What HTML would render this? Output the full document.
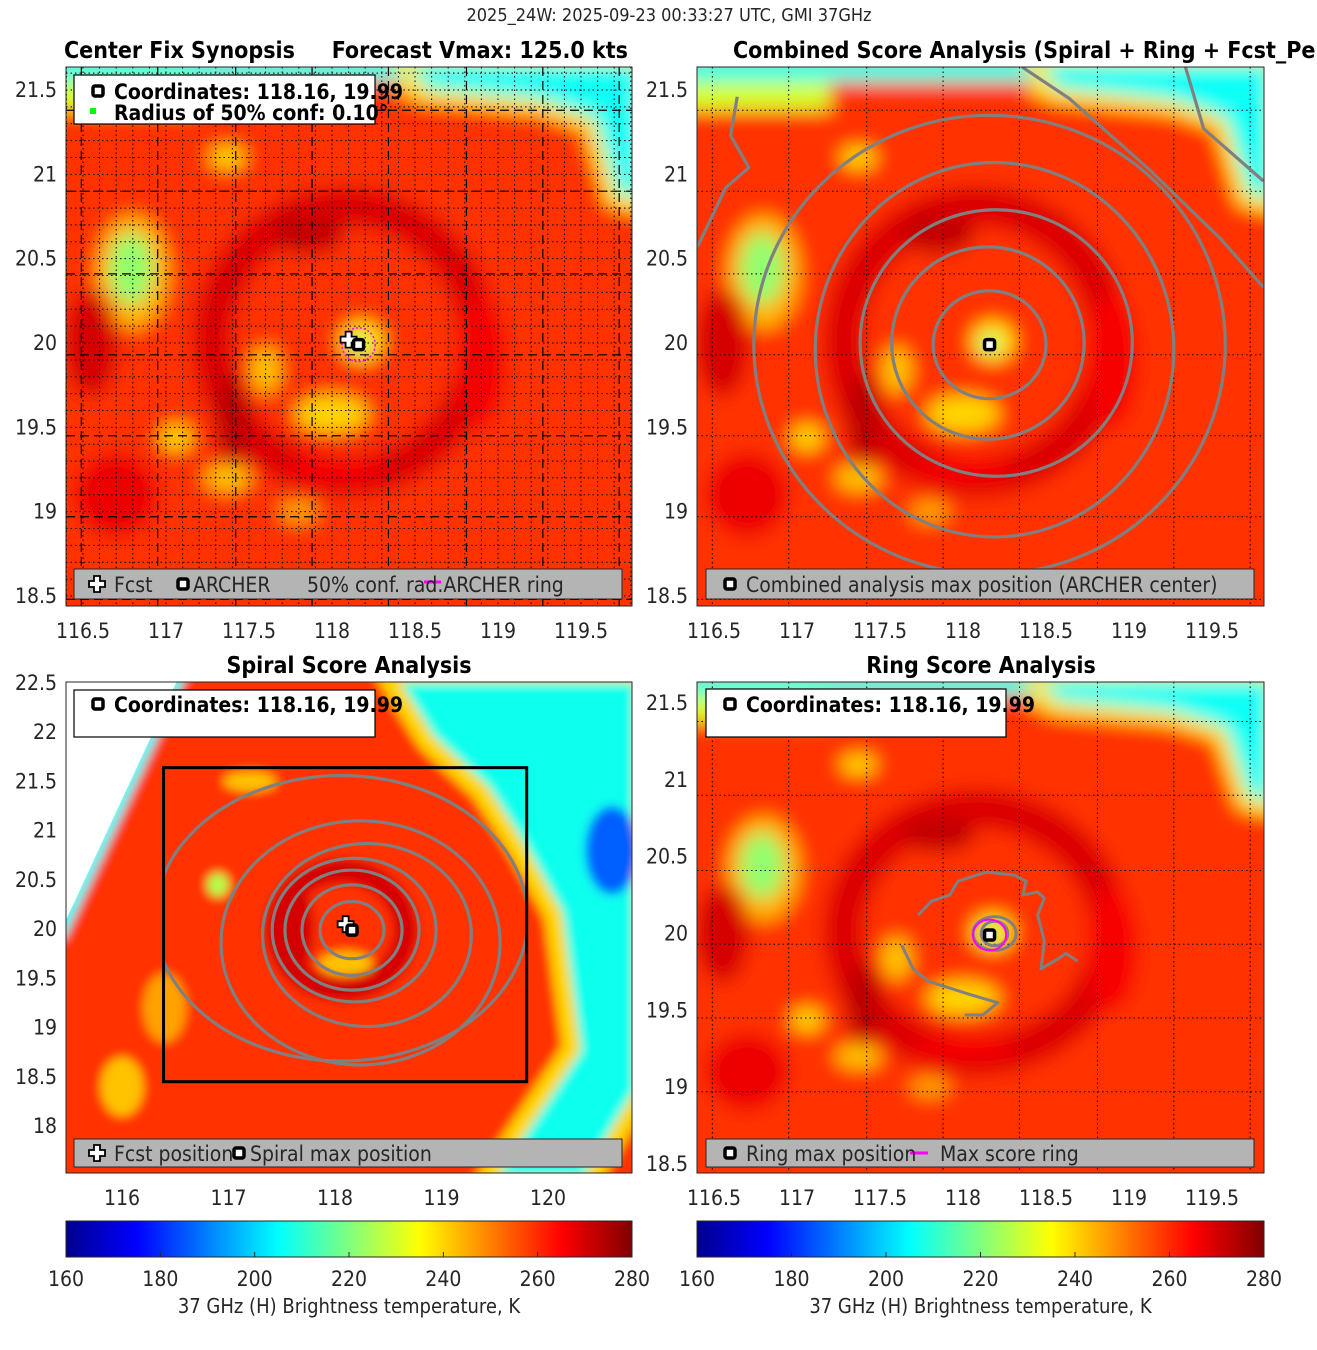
<!DOCTYPE html>
<html><head><meta charset="utf-8">
<style>
html,body{margin:0;padding:0;background:#fff;}
svg{display:block;font-family:"Liberation Sans Narrow","DejaVu Sans Condensed","Liberation Sans",sans-serif;}
</style></head>
<body>
<svg id="fig" width="1317" height="1350" viewBox="0 0 1317 1350">
<defs>
<filter id="blur" x="-20%" y="-20%" width="140%" height="140%"><feGaussianBlur stdDeviation="9"/></filter>
<filter id="blur2" x="-20%" y="-20%" width="140%" height="140%"><feGaussianBlur stdDeviation="5"/></filter>
<linearGradient id="jet" x1="0" x2="1" y1="0" y2="0">
<stop offset="0" stop-color="#00008f"/><stop offset="0.125" stop-color="#0000ff"/>
<stop offset="0.375" stop-color="#00ffff"/><stop offset="0.625" stop-color="#ffff00"/>
<stop offset="0.875" stop-color="#ff0000"/><stop offset="1" stop-color="#800000"/>
</linearGradient>
</defs>
<text x="669" y="21" font-size="18" text-anchor="middle" fill="#262626">2025_24W: 2025-09-23 00:33:27 UTC, GMI 37GHz</text>
<g id="root"></g>
</svg>
<script>
// ---------- data ----------
const centerLon = 118.16;
const centerLat = 19.99;
const fcstLon = 118.10;
const fcstLat = 20.02;
const cbarTicks = [160,180,200,220,240,260,280];
const tempMin = 160;
const tempMax = 280;
const baseTemp = 259;
// shared field blobs: [lon, lat, rLon, rLat, temp]
const fieldBlobs = [
 [116.80,20.42,0.22,0.34,244],[116.79,20.44,0.13,0.21,222],
 [118.18,20.01,0.13,0.12,238],[118.16,19.99,0.05,0.05,218],
 [118.00,19.58,0.22,0.11,240],[117.60,19.84,0.09,0.14,242],
 [117.06,19.44,0.10,0.08,240],[117.37,19.20,0.14,0.08,242],
 [117.80,19.00,0.12,0.07,246],[117.37,21.10,0.11,0.07,240],
 [116.55,20.00,0.16,0.32,270],[116.70,19.10,0.25,0.25,267],
 [117.85,20.65,0.22,0.12,272],[117.40,19.55,0.10,0.28,273],
 [118.90,19.90,0.15,0.40,266],[118.00,19.25,0.30,0.08,266]
];
// band features [lon0, lat0, lon1, lat1, temp]
const fieldBands = [
 [116.30,21.70,119.90,21.55,208],[118.40,21.55,119.90,21.47,238],
 [116.30,21.55,117.20,21.38,230]
];
const cyanCorner = [[118.41,21.70],[119.90,21.70],[119.90,20.80],[119.69,20.85],[119.55,21.30],[119.25,21.40],[118.53,21.47]];
const darkRingR = 0.80;
const darkRingTemp = 269;
// spiral panel
const spiralBlobs = [
 [118.10,19.65,0.25,0.12,242],[116.90,20.45,0.10,0.12,226],[117.20,21.50,0.25,0.10,242],
 [116.40,19.20,0.20,0.35,246],[116.00,18.40,0.20,0.30,242],[120.60,20.80,0.25,0.45,186],
 [117.60,20.00,0.20,0.50,270]
];
const swath = [[118.46,22.60],[120.90,22.60],[120.90,18.34],[120.38,17.40],[119.37,17.40],[120.22,18.79],[120.05,20.14],[119.71,20.81],[119.37,21.39],[118.86,21.90]];
const noData = [[115.40,22.60],[116.55,22.60],[115.40,19.92]];
const spiralBox = [116.39,21.64,119.80,18.45];
// contour ellipses [dLon, dLat, rLon, rLat]
const combRx = [0.34,0.58,0.82,1.08,1.42];
const combRy = [0.32,0.57,0.79,1.11,1.36];
const combDx = [0.00,-0.01,0.04,0.03,0.00];
const combDy = [0.00,0.01,0.01,-0.03,0.00];
const combOpenA = [[118.356,21.636],[118.64,21.45],[119.12,21.03],[119.55,20.62],[119.81,20.33]];
const combOpenB = [[119.34,21.636],[119.45,21.27],[119.81,20.96]];
const combOpenC = [[116.64,21.46],[116.60,21.23],[116.71,21.04],[116.57,20.92],[116.40,20.57]];
const spirRx = [0.30,0.47,0.63,0.77,0.98,1.31,1.75];
const spirRy = [0.29,0.46,0.61,0.73,0.93,1.24,1.45];
const spirDx = [0.00,0.00,0.00,0.02,0.14,0.08,-0.10];
const spirDy = [0.00,0.00,0.00,0.00,-0.05,-0.13,0.12];
const ringContourA = [[117.73,20.12],[117.81,20.21],[117.92,20.25],[117.97,20.34],[118.14,20.40],[118.31,20.38],[118.38,20.34],[118.36,20.25],[118.45,20.27],[118.49,20.23],[118.45,20.12],[118.49,19.95],[118.47,19.77],[118.58,19.84],[118.62,19.87],[118.69,19.82]];
const ringContourB = [[117.63,19.925],[117.70,19.77],[117.79,19.69],[118.05,19.60],[118.21,19.55],[118.12,19.47],[118.01,19.47]];
const ringRx = [0.08,0.13];
const ringRy = [0.08,0.11];
const maxRingR = 0.10;
// axes ticks
const xTicksA = [116.5,117,117.5,118,118.5,119,119.5];
const yTicksA = [18.5,19,19.5,20,20.5,21,21.5];
const xTicksS = [116,117,118,119,120];
const yTicksS = [18,18.5,19,19.5,20,20.5,21,21.5,22,22.5];
const yTicksR = [18.5,19,19.5,20,20.5,21,21.5];

// ---------- helpers ----------
const NS="http://www.w3.org/2000/svg";
const root=document.getElementById('root');
function el(tag,attrs,parent){const e=document.createElementNS(NS,tag);for(const k in attrs)e.setAttribute(k,attrs[k]);(parent||root).appendChild(e);return e;}
function jet(T){let t=(T-tempMin)/(tempMax-tempMin);t=Math.max(0,Math.min(1,t));
 const c=v=>Math.round(255*Math.max(0,Math.min(1,v)));
 return `rgb(${c(1.5-Math.abs(4*t-3))},${c(1.5-Math.abs(4*t-2))},${c(1.5-Math.abs(4*t-1))})`;}
function lin(d0,d1,p0,p1){return v=>p0+(v-d0)*(p1-p0)/(d1-d0);}
function mkPanel(id,box,sx,sy){
 const g=el('g',{});
 
 
 const cp=el('clipPath',{id:'clip-'+id},g);
 el('rect',{x:box[0],y:box[1],width:box[2]-box[0],height:box[3]-box[1]},cp);
 const inner=el('g',{'clip-path':`url(#clip-${id})`},g);
 return {g,inner,sx,sy,box};
}
function drawField(P,blobs,bands,useRing,useCorner){
 const f=el('g',{filter:'url(#blur)'},P.inner);
 el('rect',{x:P.box[0]-20,y:P.box[1]-20,width:P.box[2]-P.box[0]+40,height:P.box[3]-P.box[1]+40,fill:jet(baseTemp)},f);
 if(useRing){
  const r=el('ellipse',{cx:P.sx(centerLon-0.08),cy:P.sy(centerLat+0.02),rx:Math.abs(P.sx(centerLon+darkRingR)-P.sx(centerLon)),ry:Math.abs(P.sy(centerLat+darkRingR)-P.sy(centerLat)),fill:'none',stroke:jet(darkRingTemp),'stroke-width':40},f);
  
  
 }
 bands.forEach(b=>{
  const r=el('rect',{x:P.sx(b[0]),y:P.sy(b[1]),width:P.sx(b[2])-P.sx(b[0]),height:P.sy(b[3])-P.sy(b[1]),fill:jet(b[4])},f);
  
  
 });
 if(useCorner){
  const pts=cyanCorner.map(p=>P.sx(p[0])+','+P.sy(p[1])).join(' ');
  el('polygon',{points:pts,fill:jet(206),stroke:jet(238),'stroke-width':14,'stroke-linejoin':'round'},f);
 }
 blobs.forEach(b=>{
  const e=el('ellipse',{cx:P.sx(b[0]),cy:P.sy(b[1]),rx:Math.abs(P.sx(b[0]+b[2])-P.sx(b[0])),ry:Math.abs(P.sy(b[1]+b[3])-P.sy(b[1])),fill:jet(b[4])},f);
  
  
 });
 return f;
}
function gridLines(P,xs,ys,dash,w){
 const g=el('g',{stroke:'#000','stroke-width':w||1,'stroke-dasharray':dash,fill:'none'},P.inner);
 xs.forEach(v=>el('line',{x1:P.sx(v),x2:P.sx(v),y1:P.box[1],y2:P.box[3]},g));
 ys.forEach(v=>el('line',{y1:P.sy(v),y2:P.sy(v),x1:P.box[0],x2:P.box[2]},g));
}
function axes(P,xt,yt,name){
 el('rect',{x:P.box[0],y:P.box[1],width:P.box[2]-P.box[0],height:P.box[3]-P.box[1],fill:'none',stroke:'#262626','stroke-width':1},P.g);
 xt.forEach(v=>{const t=el('text',{x:P.sx(v),y:P.box[3]+32,'font-size':21,'text-anchor':'middle',fill:'#262626'},P.g);t.textContent=String(v);
  });
 yt.forEach(v=>{const t=el('text',{x:P.box[0]-9,y:P.sy(v)+7,'font-size':21,'text-anchor':'end',fill:'#262626'},P.g);t.textContent=String(v);
  });
}
function ell(P,parent,dx,dy,rx,ry,stroke,sw){
 return el('ellipse',{cx:P.sx(centerLon+dx),cy:P.sy(centerLat+dy),rx:Math.abs(P.sx(centerLon+rx)-P.sx(centerLon)),ry:Math.abs(P.sy(centerLat+ry)-P.sy(centerLat)),fill:'none',stroke:stroke,'stroke-width':sw},parent);
}
function poly(P,parent,pts,stroke,sw){
 return el('polyline',{points:pts.map(p=>P.sx(p[0])+','+P.sy(p[1])).join(' '),fill:'none',stroke:stroke,'stroke-width':sw,'stroke-linejoin':'round'},parent);
}
function sqMarker(x,y,parent){
 return el('rect',{x:x-5,y:y-5,width:10,height:10,rx:2,fill:'#fff',stroke:'#000','stroke-width':3.5},parent);
}
function plusMarker(x,y,parent){
 return el('path',{d:`M${x-3},${y-8}h6v5h5v6h-5v5h-6v-5h-5v-6h5z`,fill:'#fff',stroke:'#000','stroke-width':1.8},parent);
}
function txt(parent,x,y,s,size,weight,anchor,name){
 const t=el('text',{x:x,y:y,'font-size':size,'font-weight':weight||'normal','text-anchor':anchor||'start',fill:weight==='bold'?'#000':'#262626'},parent);
 t.textContent=s;
 
 
 return t;
}
const minorLon=[];for(let v=116.4;v<119.85;v+=0.1)minorLon.push(+v.toFixed(2));
const minorLat=[];for(let v=18.5;v<21.7;v+=0.1)minorLat.push(+v.toFixed(2));

// ---------- panel 1 ----------
const P1=mkPanel('synopsis',[66,67,632,606],lin(116.5,119.5,83,581),lin(21.5,18.5,90,596));
drawField(P1,fieldBlobs,fieldBands,true,true);
gridLines(P1,minorLon,minorLat,'1.5,3',1);
gridLines(P1,[116.49,116.95,117.42,117.88,118.34,118.81,119.27,119.73],[21.38,20.9,20.41,19.93,19.45,18.97,18.48],'9,5',1.2);
el('ellipse',{cx:P1.sx(centerLon),cy:P1.sy(centerLat),rx:P1.sx(centerLon+maxRingR)-P1.sx(centerLon),ry:P1.sy(centerLat)-P1.sy(centerLat+maxRingR),fill:'none',stroke:'#ff00ff','stroke-width':1.5,'stroke-dasharray':'2,2'},P1.inner);
plusMarker(P1.sx(fcstLon),P1.sy(fcstLat),P1.inner);
sqMarker(P1.sx(centerLon),P1.sy(centerLat),P1.inner);
axes(P1,xTicksA,yTicksA,'synopsis');
txt(P1.g,64,58,'Center Fix Synopsis',23,'bold','start','synopsis-title');
txt(P1.g,628,58,'Forecast Vmax: 125.0 kts',23,'bold','end','forecast-vmax-title');
{const lg=el('g',{},P1.g);
 el('rect',{x:74,y:75,width:301,height:49,fill:'#fff',stroke:'#000','stroke-width':1.2},lg);
 sqMarker(98,91,lg);el('rect',{x:90,y:108,width:6,height:6,fill:'#00ff00'},lg);
 txt(lg,114,99,'Coordinates: 118.16, 19.99',21,'bold','start','coordinates-text');
 txt(lg,114,120,'Radius of 50% conf: 0.10°',21,'bold','start','confidence-radius-text');}
{const lg=el('g',{},P1.g);
 el('rect',{x:74,y:569,width:548,height:30,fill:'#b4b4b4',stroke:'#262626','stroke-width':1},lg);
 plusMarker(97,584,lg);sqMarker(183,584,lg);
 el('line',{x1:424,x2:441,y1:582,y2:582,stroke:'#ff00ff','stroke-width':3},lg);
 txt(lg,114,592,'Fcst',21,'normal','start','legend-fcst');
 txt(lg,193,592,'ARCHER',21,'normal','start','legend-archer');
 txt(lg,307,592,'50% conf. rad.ARCHER ring',21,'normal','start','legend-conf-ring');}

// ---------- panel 2 ----------
const P2=mkPanel('combined',[697,67,1264,606],lin(116.5,119.5,714,1212),lin(21.5,18.5,90,596));
drawField(P2,fieldBlobs,fieldBands,true,true);
gridLines(P2,[116.49,116.95,117.42,117.88,118.34,118.81,119.27,119.73],[21.38,20.9,20.41,19.93,19.45,18.97,18.48],'1.5,3',1);
{const cg=el('g',{},P2.inner);
 combRx.forEach((r,i)=>{const e=ell(P2,cg,combDx[i],combDy[i],r,combRy[i],'#808080',3.2);});
 [combOpenA,combOpenB,combOpenC].forEach(c=>{const p=poly(P2,cg,c,'#808080',3.2);});}
sqMarker(P2.sx(centerLon),P2.sy(centerLat),P2.inner);
axes(P2,xTicksA,yTicksA,'combined');
txt(root,733,58,'Combined Score Analysis (Spiral + Ring + Fcst_Pe',23,'bold','start','combined-title');
{const lg=el('g',{},P2.g);
 el('rect',{x:706,y:569,width:548,height:30,fill:'#b4b4b4',stroke:'#262626','stroke-width':1},lg);
 sqMarker(730,584,lg);
 txt(lg,746,592,'Combined analysis max position (ARCHER center)',21,'normal','start','legend-combined-max');}

// ---------- panel 3 ----------
const P3=mkPanel('spiral',[66,682,632,1173],lin(116,120,122,548),lin(22.5,18,683,1126));
{const f=drawField(P3,spiralBlobs,[],false,false);
 f.setAttribute('filter','url(#blur2)');
 el('polygon',{points:swath.map(p=>P3.sx(p[0])+','+P3.sy(p[1])).join(' '),fill:jet(207),stroke:jet(240),'stroke-width':18,'stroke-linejoin':'round'},f);
 const bl=spiralBlobs[5];
 el('ellipse',{cx:P3.sx(bl[0]),cy:P3.sy(bl[1]),rx:P3.sx(bl[0]+bl[2])-P3.sx(bl[0]),ry:P3.sy(bl[1])-P3.sy(bl[1]+bl[3]),fill:jet(bl[4])},f);
 el('ellipse',{cx:P3.sx(centerLon-0.1),cy:P3.sy(centerLat),rx:P3.sx(centerLon+0.6)-P3.sx(centerLon),ry:P3.sy(centerLat)-P3.sy(centerLat+0.6),fill:'none',stroke:jet(270),'stroke-width':24},f);
 const bb=spiralBlobs[0];
 el('ellipse',{cx:P3.sx(bb[0]),cy:P3.sy(bb[1]),rx:P3.sx(bb[0]+bb[2])-P3.sx(bb[0]),ry:P3.sy(bb[1])-P3.sy(bb[1]+bb[3]),fill:jet(bb[4])},f);
 el('polygon',{points:noData.map(p=>P3.sx(p[0])+','+P3.sy(p[1])).join(' '),fill:'#fff',stroke:jet(205),'stroke-width':12},f);
 const nd=el('polygon',{points:noData.map(p=>P3.sx(p[0])+','+P3.sy(p[1])).join(' '),fill:'#fff'},P3.inner);
 }
{const cp=el('clipPath',{id:'clip-box'},P3.g);
 el('rect',{x:P3.sx(spiralBox[0]),y:P3.sy(spiralBox[1]),width:P3.sx(spiralBox[2])-P3.sx(spiralBox[0]),height:P3.sy(spiralBox[3])-P3.sy(spiralBox[1])},cp);
 const cg=el('g',{'clip-path':'url(#clip-box)'},P3.inner);
 spirRx.forEach((r,i)=>{const e=ell(P3,cg,spirDx[i],spirDy[i],r,spirRy[i],'#808080',3.2);});
 const bx=el('rect',{x:P3.sx(spiralBox[0]),y:P3.sy(spiralBox[1]),width:P3.sx(spiralBox[2])-P3.sx(spiralBox[0]),height:P3.sy(spiralBox[3])-P3.sy(spiralBox[1]),fill:'none',stroke:'#000','stroke-width':3},P3.inner);
 }
plusMarker(P3.sx(fcstLon),P3.sy(fcstLat+0.03),P3.inner);
sqMarker(P3.sx(centerLon),P3.sy(centerLat),P3.inner);
axes(P3,xTicksS,yTicksS,'spiral');
txt(root,349,673,'Spiral Score Analysis',23,'bold','middle','spiral-title');
{const lg=el('g',{},P3.g);
 el('rect',{x:74,y:690,width:301,height:47,fill:'#fff',stroke:'#000','stroke-width':1.2},lg);
 sqMarker(98,704,lg);
 txt(lg,114,712,'Coordinates: 118.16, 19.99',21,'bold','start','spiral-coordinates-text');}
{const lg=el('g',{},P3.g);
 el('rect',{x:74,y:1139,width:548,height:28,fill:'#b4b4b4',stroke:'#262626','stroke-width':1},lg);
 plusMarker(97,1153,lg);
 txt(lg,114,1161,'Fcst position',21,'normal','start','legend-fcst-position');
 sqMarker(239,1153,lg);
 txt(lg,250,1161,'Spiral max position',21,'normal','start','legend-spiral-max');}

// ---------- panel 4 ----------
const P4=mkPanel('ring',[697,682,1264,1173],lin(116.5,119.5,714,1212),lin(21.5,18.5,703,1164));
drawField(P4,fieldBlobs,fieldBands,true,true);
gridLines(P4,[116.49,116.95,117.42,117.88,118.34,118.81,119.27,119.73],[21.38,20.9,20.41,19.93,19.45,18.97],'1.5,3',1);
{const cg=el('g',{},P4.inner);
 ringRx.forEach((r,i)=>{const e=ell(P4,cg,0.03,0.01,r,ringRy[i],'#808080',3);});
 [ringContourA,ringContourB].forEach(c=>{const p=poly(P4,cg,c,'#808080',3);});
 const m=ell(P4,cg,0,0,maxRingR,maxRingR,'#ff00ff',2);}
sqMarker(P4.sx(centerLon),P4.sy(centerLat),P4.inner);
axes(P4,xTicksA,yTicksR,'ring');
txt(root,981,673,'Ring Score Analysis',23,'bold','middle','ring-title');
{const lg=el('g',{},P4.g);
 el('rect',{x:706,y:689,width:300,height:48,fill:'#fff',stroke:'#000','stroke-width':1.2},lg);
 sqMarker(730,704,lg);
 txt(lg,746,712,'Coordinates: 118.16, 19.99',21,'bold','start','ring-coordinates-text');}
{const lg=el('g',{},P4.g);
 el('rect',{x:706,y:1139,width:548,height:28,fill:'#b4b4b4',stroke:'#262626','stroke-width':1},lg);
 sqMarker(730,1153,lg);
 el('line',{x1:910,x2:928,y1:1153,y2:1153,stroke:'#ff00ff','stroke-width':3},lg);
 txt(lg,746,1161,'Ring max position',21,'normal','start','legend-ring-max');
 txt(lg,940,1161,'Max score ring',21,'normal','start','legend-max-score-ring');}

// ---------- colorbars ----------
[[66,632,'left'],[697,1264,'right']].forEach(c=>{
 const g=el('g',{});
 
 
 const cx=lin(tempMin,tempMax,c[0],c[1]);
 el('rect',{x:c[0],y:1221,width:c[1]-c[0],height:36,fill:'url(#jet)',stroke:'#262626','stroke-width':1},g);
 cbarTicks.forEach(v=>{
  el('line',{x1:cx(v),x2:cx(v),y1:1252,y2:1257,stroke:'#262626'},g);
  txt(g,cx(v),1286,String(v),21,'normal','middle','colorbar-tick-label');
 });
 txt(g,(c[0]+c[1])/2,1313,'37 GHz (H) Brightness temperature, K',20,'normal','middle','colorbar-title');
});
</script>
</body></html>
